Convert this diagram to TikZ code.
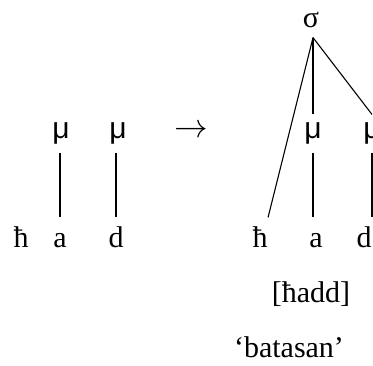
\documentclass[tikz,border=0pt]{standalone}
\usepackage{fontspec}
\setmainfont{Liberation Serif}
\newfontfamily\grk{Liberation Sans}
\tikzset{
  txt/.style = {inner sep = 0, anchor = base, font = \fontsize{30}{36}\selectfont},
  seg/.style = {txt, text height = 29pt, text depth = 0pt},
  mora/.style = {txt, font = \fontsize{30}{36}\selectfont\grk, text height = 23pt, text depth = 14pt},
  syl/.style = {txt, text height = 20pt, text depth = 10pt}
}
\begin{document}
\begin{tikzpicture}[x = 1pt, y = -1pt, line width = 1.1pt]
        \useasboundingbox (0, 0) rectangle (373, 365);
        % input
        \node [seg] (lh) at (21, 247) {ħ};
        \node [seg] (la) at (60, 247) {a};
        \node [seg] (ld) at (116, 247) {d};
        \node [mora] (lmua) at (61, 138) {μ};
        \node [mora] (lmud) at (118, 138) {μ};
        \draw (lmua.south -| la) -- (la.north);
        \draw (lmud.south -| ld) -- (ld.north);
        % arrow
        \node [txt, anchor = center, scale = 1.35] (arr) at (191, 131) {$\rightarrow$};
        % output
        \node [syl] (sig) at (311, 27) {σ};
        \node [seg] (rh) at (260, 247) {ħ};
        \node [seg] (ra) at (316, 247) {a};
        \node [seg] (rd) at (364, 247) {d};
        \node [mora] (rmua) at (313, 138) {μ};
        \node [mora] (rmud) at (372, 138) {μ};
        \draw (sig.south -| rmua) -- (rh.north east);
        \draw (sig.south -| rmua) -- (rmua.north);
        \draw (sig.south -| rmua) -- (rmud.north);
        \draw (rmua.south) -- (rmua |- ra.north);
        \draw (rmud.south) -- (rmud |- rd.north);
        % transcription and gloss
        \node [txt] (form) at (311, 302) {[ħadd]};
        \node [txt] (gloss) at (289, 357) {‘batasan’};
      \end{tikzpicture}
\end{document}
